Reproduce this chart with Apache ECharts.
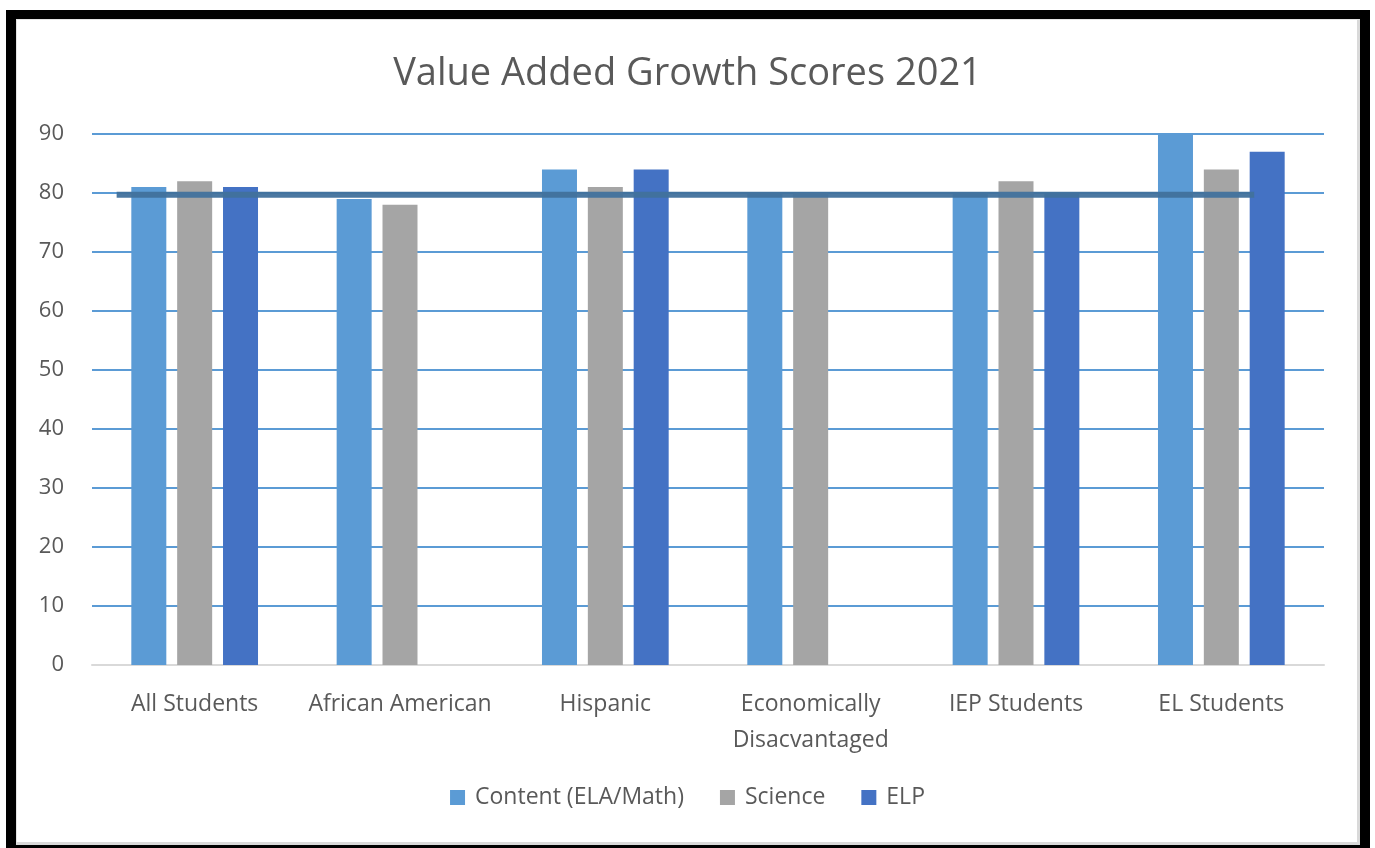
<!DOCTYPE html>
<html>
<head>
<meta charset="utf-8">
<title>Value Added Growth Scores 2021</title>
<script src="https://cdn.jsdelivr.net/npm/echarts@6/dist/echarts.min.js"></script>
<style>
  html, body { margin: 0; padding: 0; background: #fff; }
  #frame { position: absolute; left: 6px; top: 10px; width: 1364px; height: 838px; background: #000; }
  #inner { position: absolute; left: 10px; top: 9px; width: 1340px; height: 822px; background: #fff;
           border: 1px solid #e3e3e3; border-right: 3px solid #d9d9d9; border-bottom: 3px solid #d9d9d9; }
  #chart { position: absolute; left: 0; top: 0; width: 1375px; height: 848px; }
</style>
</head>
<body>
<div id="frame"><div id="inner"></div></div>
<div id="chart"></div>
<script>
// data
const categories = ['All Students', 'African American', 'Hispanic', 'Economically\nDisacvantaged', 'IEP Students', 'EL Students']
const contentScores = [81, 79, 84, 80, 80, 90]
const scienceScores = [82, 78, 81, 80, 82, 84]
const elpScores = [81, null, 84, null, 80, 87]
const yTicks = [0, 10, 20, 30, 40, 50, 60, 70, 80, 90]
// target line: start / end position along the category band (0..6) and its value
const targetLine = [[0.12, 79.7], [5.66, 79.7]]

const labelColor = '#595959'
const font = '"Open Sans", "Noto Sans", sans-serif'

const chart = echarts.init(document.getElementById('chart'), null, { renderer: 'canvas' })

chart.setOption({
  animation: false,
  backgroundColor: 'transparent',
  textStyle: { fontFamily: font },
  title: {
    text: 'Value Added Growth Scores 2021',
    left: 'center',
    top: 50,
    textStyle: { fontFamily: font, fontSize: 38, fontWeight: 'normal', color: labelColor }
  },
  legend: {
    data: ['Content (ELA/Math)', 'Science', 'ELP'],
    bottom: 34,
    left: 'center',
    itemWidth: 15,
    itemHeight: 15,
    itemGap: 36,
    icon: 'rect',
    textStyle: { fontFamily: font, fontSize: 23, color: labelColor, padding: [0, 0, 0, 5] }
  },
  grid: {
    left: 92,
    right: 51,
    top: 134,
    bottom: 183
  },
  xAxis: [
    {
      type: 'category',
      data: categories,
      axisTick: { show: false },
      axisLine: { lineStyle: { color: '#d9d9d9', width: 2 } },
      axisLabel: {
        color: labelColor,
        fontSize: 23,
        fontFamily: font,
        margin: 21,
        lineHeight: 36,
        interval: 0
      }
    },
    {
      type: 'value',
      min: 0,
      max: categories.length,
      show: false
    }
  ],
  yAxis: {
    type: 'value',
    min: yTicks[0],
    max: yTicks[yTicks.length - 1],
    interval: 10,
    axisLine: { show: false },
    axisTick: { show: false },
    splitLine: { lineStyle: { color: '#5b9bd5', width: 2 } },
    axisLabel: { color: labelColor, fontSize: 22, fontFamily: font, margin: 28 }
  },
  series: [
    {
      name: 'Content (ELA/Math)',
      type: 'bar',
      data: contentScores,
      barWidth: 35,
      barGap: '31%',
      itemStyle: { color: '#5b9bd5' }
    },
    {
      name: 'Science',
      type: 'bar',
      data: scienceScores,
      barWidth: 35,
      itemStyle: { color: '#a5a5a5' }
    },
    {
      name: 'ELP',
      type: 'bar',
      data: elpScores,
      barWidth: 35,
      itemStyle: { color: '#4472c4' }
    },
    {
      name: 'Target',
      type: 'line',
      xAxisIndex: 1,
      data: targetLine,
      symbol: 'none',
      z: 5,
      lineStyle: { color: '#41719c', width: 6, opacity: 0.95 }
    }
  ]
})
</script>
</body>
</html>
